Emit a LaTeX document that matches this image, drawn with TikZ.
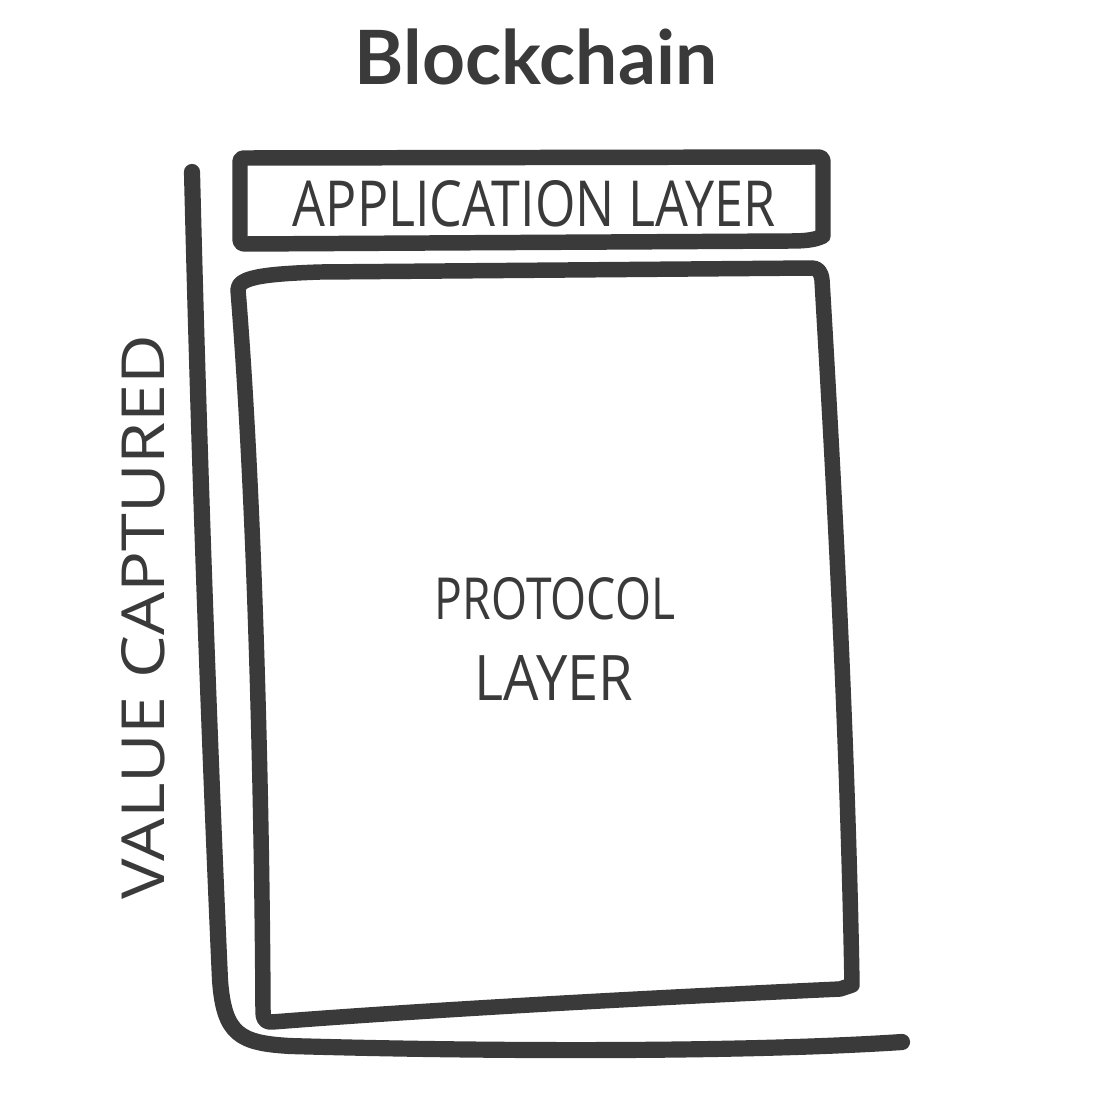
\documentclass[tikz,border=0pt]{standalone}
\usepackage{fontspec}
\setmainfont{Open Sans}
\newfontfamily\titlefont{Lato}
\definecolor{ink}{HTML}{3A3A3A}
\begin{document}
\begin{tikzpicture}[x=0.01cm,y=-0.01cm,
  stroke/.style={draw=ink,line width=4.4pt,line cap=round,line join=round},
  hand/.style={text=ink,inner sep=0pt,outer sep=0pt}]
\useasboundingbox[fill=white] (0,0) rectangle (1096,1100);
% title
\node[hand] (title) at (536,57) {\resizebox{3.62cm}{!}{\titlefont\bfseries Blockchain}};
% axis
\coordinate (ytop) at (192,172);
\coordinate (xend) at (902,1042);
\draw[stroke,line width=4.6pt] (ytop) .. controls (200,500) and (212,800) .. (220,980)
  .. controls (224,1035) and (240,1043) .. (290,1046)
  .. controls (500,1052) and (750,1052) .. (xend);
% application layer box
\draw[stroke] (245,158) -- (818,157) .. controls (822,157) and (823,159) .. (823,163)
  -- (823,236) .. controls (815,240) and (805,241) .. (790,241)
  -- (245,244) .. controls (241,244) and (240,242) .. (240,238)
  -- (240,163) .. controls (240,159) and (241,158) .. (245,158) -- cycle;
\node[hand] (app) at (534,204) {\resizebox{4.82cm}{0.46cm}{APPLICATION LAYER}};
% protocol layer box
\draw[stroke] (238,290) .. controls (238,278) and (260,274) .. (320,272)
  -- (812,268) .. controls (818,268) and (821,272) .. (822,280)
  .. controls (835,500) and (848,750) .. (852,985)
  -- (840,989) .. controls (600,1000) and (400,1012) .. (272,1022)
  .. controls (265,1022) and (263,1020) .. (263,1010)
  .. controls (262,800) and (255,500) .. (238,290) -- cycle;
\node[hand] (proto1) at (555,599) {\resizebox{2.40cm}{0.42cm}{PROTOCOL}};
\node[hand] (proto2) at (554,678) {\resizebox{1.58cm}{0.45cm}{LAYER}};
% y-axis label
\node[hand,rotate=90] (ylab) at (143,617) {\resizebox{5.65cm}{0.43cm}{VALUE CAPTURED}};
\end{tikzpicture}
\end{document}
